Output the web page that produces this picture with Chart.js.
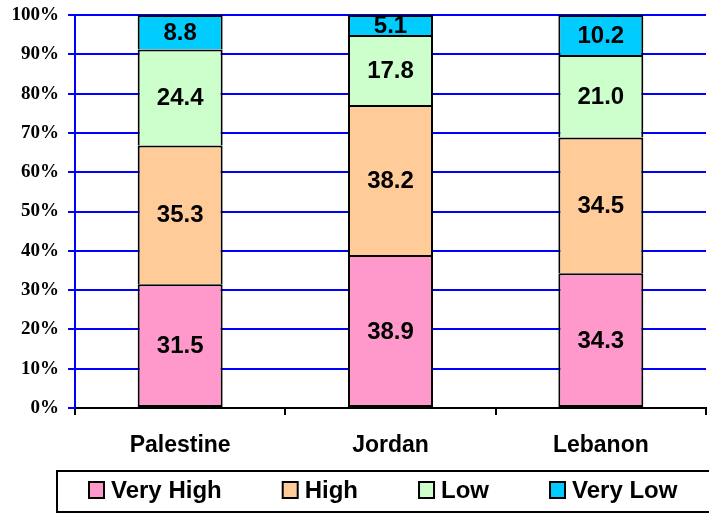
<!DOCTYPE html>
<html>
<head>
<meta charset="utf-8">
<script src="https://cdn.jsdelivr.net/npm/chart.js@4.4.0/dist/chart.umd.min.js"></script>
<style>
  html, body { margin: 0; padding: 0; background: #fff; overflow: hidden; }
  #wrap { position: relative; width: 709px; height: 515px; }
</style>
</head>
<body>
<div id="wrap"><canvas id="chart"></canvas></div>
<script>
// data
const countries = ['Palestine', 'Jordan', 'Lebanon'];
const veryHigh = [31.5, 38.9, 34.3];
const high = [35.3, 38.2, 34.5];
const low = [24.4, 17.8, 21.0];
const veryLow = [8.8, 5.1, 10.2];
const seriesNames = ['Very High', 'High', 'Low', 'Very Low'];
const seriesColors = ['#FF99CC', '#FFCC99', '#CCFFCC', '#00CCFF'];
const yTickValues = [0, 10, 20, 30, 40, 50, 60, 70, 80, 90, 100];

const sans = '"Liberation Sans", Arial, sans-serif';

// numbers in the middle of each segment
const valueLabels = {
  id: 'valueLabels',
  afterDatasetsDraw(chart) {
    const ctx = chart.ctx;
    ctx.save();
    ctx.font = 'bold 24px ' + sans;
    ctx.fillStyle = '#000';
    ctx.textAlign = 'center';
    ctx.textBaseline = 'middle';
    chart.data.datasets.forEach((ds, i) => {
      chart.getDatasetMeta(i).data.forEach((bar, j) => {
        const p = bar.getProps(['x', 'y', 'base'], true);
        ctx.fillText(ds.data[j].toFixed(1), p.x, (p.y + p.base) / 2 + 1);
      });
    });
    ctx.restore();
  }
};

// boxed legend like the spreadsheet one
const boxLegend = {
  id: 'boxLegend',
  afterDraw(chart) {
    const ctx = chart.ctx;
    ctx.save();
    ctx.lineWidth = 2;
    ctx.strokeStyle = '#000';
    ctx.strokeRect(57, 471, 700, 41);
    ctx.font = 'bold 24px ' + sans;
    ctx.textBaseline = 'middle';
    ctx.textAlign = 'left';
    let x = 89;
    chart.data.datasets.forEach(ds => {
      ctx.fillStyle = ds.backgroundColor;
      ctx.fillRect(x, 482, 15, 16);
      ctx.strokeRect(x, 482, 15, 16);
      ctx.fillStyle = '#000';
      ctx.fillText(ds.label, x + 22, 491);
      x += 22 + ctx.measureText(ds.label).width + 61;
    });
    ctx.restore();
  }
};

const seriesData = [veryHigh, high, low, veryLow];

new Chart(document.getElementById('chart'), {
  type: 'bar',
  data: {
    labels: countries,
    datasets: seriesNames.map((name, i) => ({
      label: name,
      data: seriesData[i],
      backgroundColor: seriesColors[i],
      borderColor: '#000',
      // each segment's top edge is the line shared with the next one up
      borderWidth: { left: 2, right: 2, top: 2, bottom: i === 0 ? 2 : 0 },
      borderSkipped: false,
      inflateAmount: 0,
      categoryPercentage: 1,
      barPercentage: 0.404
    }))
  },
  options: {
    responsive: true,
    maintainAspectRatio: false,
    animation: false,
    layout: { padding: { top: 15, right: 3, bottom: 55, left: 0 } },
    plugins: {
      legend: { display: false },
      tooltip: { enabled: false }
    },
    scales: {
      x: {
        stacked: true,
        afterFit(scale) { scale.height = 52; },
        grid: { offset: true, drawOnChartArea: false, drawTicks: true, tickLength: 7, color: '#000', lineWidth: 2 },
        border: { color: '#000', width: 2 },
        ticks: { padding: 17, color: '#000', font: { family: sans, size: 23, weight: 'bold' } }
      },
      y: {
        stacked: true,
        min: 0,
        max: 100,
        afterFit(scale) { scale.width = 75; scale.paddingTop = 0; scale.paddingBottom = 0; },
        afterBuildTicks(scale) { scale.ticks = yTickValues.map(v => ({ value: v })); },
        grid: { color: '#0000FF', lineWidth: 2, tickLength: 7 },
        border: { color: '#0000FF', width: 2 },
        ticks: {
          padding: 9,
          color: '#000',
          font: { family: '"Liberation Serif", "Times New Roman", serif', size: 19, weight: 'bold', lineHeight: 1 },
          callback: v => v + '%'
        }
      }
    }
  },
  plugins: [valueLabels, boxLegend]
});
</script>
</body>
</html>
